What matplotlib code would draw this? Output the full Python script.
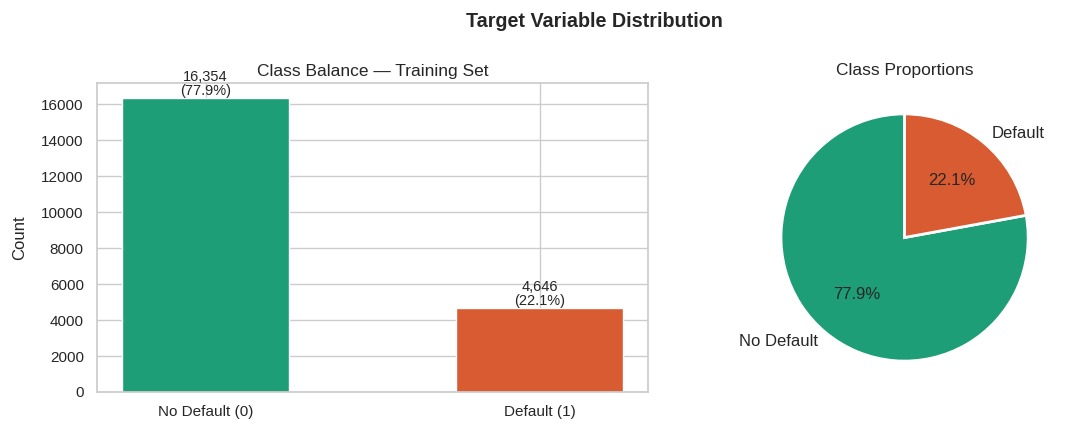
import matplotlib
matplotlib.use("Agg")
import matplotlib.pyplot as plt
import seaborn as sns

sns.set_theme(style="whitegrid")
plt.rcParams['font.family'] = ['Liberation Sans', 'DejaVu Sans']

# data
bar_labels = ["No Default (0)", "Default (1)"]
pie_labels = ["No Default", "Default"]
counts = [16354, 4646]
colors = ["#1E9E76", "#D85B31"]

total = sum(counts)
pcts = [c / total * 100 for c in counts]

fig = plt.figure(figsize=(10.7, 4.33), dpi=100)
ax1 = fig.add_axes([0.0907, 0.0947, 0.515, 0.7136])
ax2 = fig.add_axes([0.701, 0.0947, 0.2888, 0.7136])

# bar chart
x = range(len(counts))
bars = ax1.bar(x, counts, width=0.5, color=colors, edgecolor="white", linewidth=1)
for b, c, p in zip(bars, counts, pcts):
    ax1.text(b.get_x() + b.get_width() / 2, c, f"{c:,}\n({p:.1f}%)",
             ha="center", va="bottom", fontsize=10.5, color="#262626",
             linespacing=1.0)
ax1.set_xticks(list(x))
ax1.set_xticklabels(bar_labels, fontsize=11)
ax1.tick_params(axis="y", labelsize=11)
ax1.set_ylabel("Count", fontsize=12, labelpad=10)
ax1.set_title("Class Balance \u2014 Training Set", fontsize=12.5, pad=5)
for s in ax1.spines.values():
    s.set_color("#cccccc")

# pie chart
ax2.pie(counts, labels=pie_labels, colors=colors, autopct="%1.1f%%",
        startangle=90, wedgeprops=dict(edgecolor="white", linewidth=2),
        textprops=dict(fontsize=12, color="#262626"))
ax2.set_title("Class Proportions", fontsize=12.5, pad=6)

fig.suptitle("Target Variable Distribution", fontsize=14.2, fontweight="bold",
             x=0.556, y=0.972)

fig.savefig("out.png", dpi=100)
